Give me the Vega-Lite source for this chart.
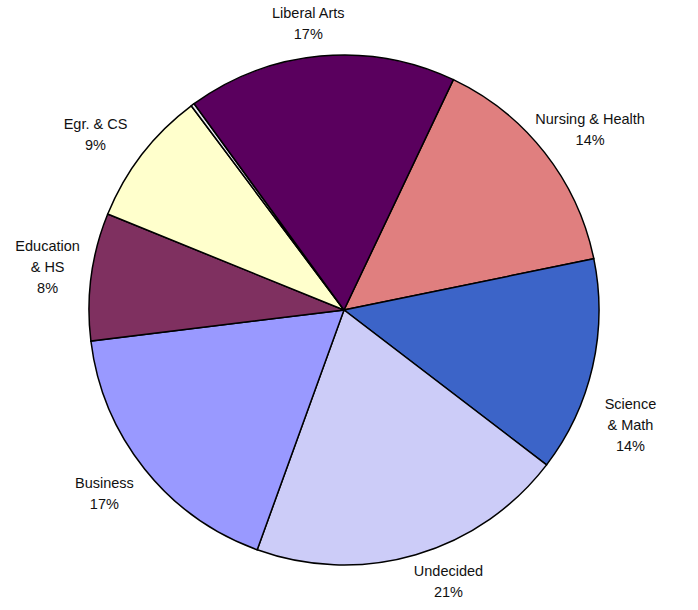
{
  "$schema": "https://vega.github.io/schema/vega-lite/v6.json",
  "width": 688,
  "height": 600,
  "autosize": {"type": "none"},
  "padding": {"left": 0, "top": 10, "right": 10, "bottom": 0},
  "background": "white",
  "view": {"stroke": null},
  "config": {"text": {"font": "Liberation Sans", "fontSize": 14.5, "lineBreak": "\n", "lineHeight": 21, "color": "#111111", "align": "center", "baseline": "middle"}},
  "data": {
    "values": [
      {"idx": 1, "major": "Nursing & Health", "value": 53.0, "label": "Nursing & Health\n14%"},
      {"idx": 2, "major": "Science & Math", "value": 49.0, "label": "Science\n& Math\n14%"},
      {"idx": 3, "major": "Undecided", "value": 72.5, "label": "Undecided\n21%"},
      {"idx": 4, "major": "Business", "value": 63.1, "label": "Business\n17%"},
      {"idx": 5, "major": "Education & HS", "value": 29.1, "label": "Education\n& HS\n8%"},
      {"idx": 6, "major": "Egr. & CS", "value": 31.1, "label": "Egr. & CS\n9%"},
      {"idx": 7, "major": "Other", "value": 0.8, "label": ""},
      {"idx": 8, "major": "Liberal Arts", "value": 61.4, "label": "Liberal Arts\n17%"}
    ]
  },
  "encoding": {
    "theta": {"field": "value", "type": "quantitative", "stack": true, "scale": {"range": [0.4433, 6.7265]}},
    "order": {"field": "idx", "type": "quantitative"}
  },
  "layer": [
    {
      "mark": {"type": "arc", "outerRadius": 255, "stroke": "black", "strokeWidth": 1.5},
      "encoding": {
        "color": {
          "field": "major",
          "type": "nominal",
          "legend": null,
          "scale": {
            "domain": ["Nursing & Health", "Science & Math", "Undecided", "Business", "Education & HS", "Egr. & CS", "Other", "Liberal Arts"],
            "range": ["#E07F7F", "#3C64C8", "#CCCCF8", "#9999FF", "#7F3060", "#FFFFCC", "#E8E8F0", "#5A005E"]
          }
        }
      }
    },
    {
      "mark": {"type": "text", "radius": 300, "dx": -8, "dy": 3},
      "encoding": {"text": {"condition": {"test": "datum.major === 'Liberal Arts'", "field": "label"}, "value": ""}}
    },
    {
      "mark": {"type": "text", "radius": 300, "dx": 10, "dy": -5},
      "encoding": {"text": {"condition": {"test": "datum.major === 'Nursing & Health'", "field": "label"}, "value": ""}}
    },
    {
      "mark": {"type": "text", "radius": 300, "dx": -6, "dy": 28},
      "encoding": {"text": {"condition": {"test": "datum.major === 'Science & Math'", "field": "label"}, "value": ""}}
    },
    {
      "mark": {"type": "text", "radius": 300, "dx": 20, "dy": -26},
      "encoding": {"text": {"condition": {"test": "datum.major === 'Undecided'", "field": "label"}, "value": ""}}
    },
    {
      "mark": {"type": "text", "radius": 300, "dx": -5, "dy": -13},
      "encoding": {"text": {"condition": {"test": "datum.major === 'Business'", "field": "label"}, "value": ""}}
    },
    {
      "mark": {"type": "text", "radius": 300, "dx": 1, "dy": -24},
      "encoding": {"text": {"condition": {"test": "datum.major === 'Education & HS'", "field": "label"}, "value": ""}}
    },
    {
      "mark": {"type": "text", "radius": 300, "dx": -11, "dy": -2},
      "encoding": {"text": {"condition": {"test": "datum.major === 'Egr. & CS'", "field": "label"}, "value": ""}}
    }
  ]
}
